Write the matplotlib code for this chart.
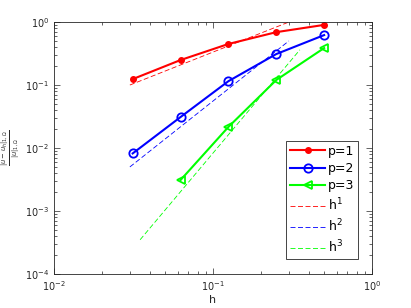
import numpy as np
import matplotlib.pyplot as plt

# mesh sizes and relative H1 errors
h = [1/32, 1/16, 1/8, 1/4, 1/2]
err_p1 = [0.124, 0.249, 0.448, 0.69, 0.90]
err_p2 = [0.0082, 0.031, 0.115, 0.31, 0.62]
err_p3 = [0.0031, 0.0216, 0.12, 0.386]
h_p3 = [1/16, 1/8, 1/4, 1/2]

# reference slopes: h range and constant
ref_h1 = [0.03, 0.3]
ref_h2 = [0.03, 0.3]
ref_h3 = [0.0348, 0.352]
ref_c = [3.33, 5.56, 8.3]

plt.rcParams['font.family'] = 'DejaVu Sans'
fig = plt.figure(figsize=(4.11, 3.08), dpi=100)
ax = fig.add_axes([54/411, 1 - 274/308, 318/411, 252/308])

ax.loglog(h, err_p1, '-', color='red', marker='o', ms=4, lw=1.5, label='p=1')
ax.loglog(h, err_p2, '-', color='blue', marker='o', ms=6, mfc='none', mew=1.3, lw=1.5, label='p=2')
ax.loglog(h_p3, err_p3, '-', color='#00ff00', marker='<', ms=6, mfc='none', mew=1.3, lw=1.5, label='p=3')

x1 = np.array(ref_h1)
x2 = np.array(ref_h2)
x3 = np.array(ref_h3)
ax.loglog(x1, ref_c[0] * x1, '--', dashes=(6, 3), color='red', lw=0.6, label='h$^1$')
ax.loglog(x2, ref_c[1] * x2**2, '--', dashes=(6, 3), color='blue', lw=0.6, label='h$^2$')
ax.loglog(x3, ref_c[2] * x3**3, '--', dashes=(6, 3), color='#00ff00', lw=0.6, label='h$^3$')

ax.set_xlim(1e-2, 1)
ax.set_ylim(1e-4, 1)
ax.tick_params(which='both', direction='in', top=True, right=True, labelsize=7,
               colors='#262626', width=0.5)
ax.tick_params(which='major', length=4)
ax.tick_params(which='minor', length=2)
for s in ax.spines.values():
    s.set_color('#262626')
    s.set_linewidth(0.6)

ax.set_xlabel('h', fontsize=8, color='#262626', labelpad=2)
ax.set_ylabel(r'$\frac{|u-u_h|_{1,\Omega}}{|u|_{1,\Omega}}$', fontsize=7, color='#262626')
ax.yaxis.set_label_coords(-0.1, 0.5)

leg = ax.legend(loc='lower right', fontsize=9, fancybox=False, framealpha=1,
                edgecolor='#262626', handlelength=2.8, handletextpad=0.2,
                borderpad=0.3, labelspacing=0.35, bbox_to_anchor=(0.975, 0.035))
leg.get_frame().set_linewidth(0.6)

fig.savefig('out.png', dpi=100)
